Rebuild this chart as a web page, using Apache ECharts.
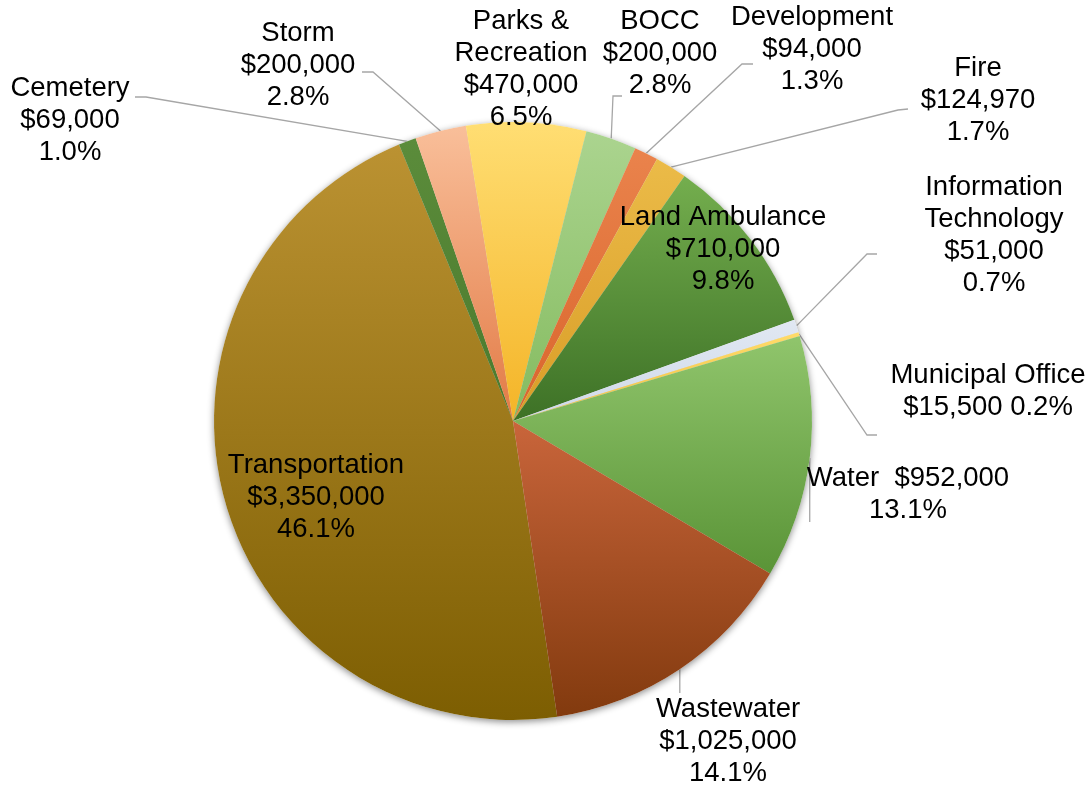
<!DOCTYPE html>
<html>
<head>
<meta charset="utf-8">
<title>Budget by Department</title>
<script src="https://cdn.jsdelivr.net/npm/echarts@6/dist/echarts.min.js"></script>
<style>
  html, body { margin: 0; padding: 0; background: #ffffff; }
  #chart { width: 1091px; height: 790px; }
</style>
</head>
<body>
<div id="chart"></div>
<script>
// Departments, listed clockwise starting at Transportation
const categories = [
  'Transportation', 'Cemetery', 'Storm', 'Parks & Recreation', 'BOCC',
  'Development', 'Fire', 'Land Ambulance', 'Information Technology',
  'Municipal Office', 'Water', 'Wastewater'
];
const amounts = [
  3350000, 69000, 200000, 470000, 200000,
  94000, 124970, 710000, 51000,
  15500, 952000, 1025000
];

// Slice fills: top colour -> bottom colour
const sliceTop = [
  '#bb9232', '#5b8c3b', '#f9bf9a', '#ffde73', '#abd48f',
  '#ea834c', '#ebbb48', '#74ae4e', '#e1e8f3',
  '#ffdb6a', '#90c56c', '#c9653b'
];
const sliceBottom = [
  '#7d5e02', '#4b7a2d', '#e27a45', '#f4b427', '#84bb5f',
  '#d9652c', '#d99d27', '#3d7126', '#cfd9e8',
  '#f0c040', '#5a9437', '#823a0e'
];

// Label placement (label centre) and leader-line bend/end points
const labelPlace = {
  'Transportation':         { c: [316, 497] },
  'Cemetery':               { c: [70, 120],  line: [[146, 97], [135, 97]] },
  'Storm':                  { c: [298, 65],  line: [[373, 72], [362, 72]] },
  'Parks & Recreation':     { c: [521, 69] },
  'BOCC':                   { c: [660, 53],  line: [[613, 96], [622, 96]] },
  'Development':            { c: [812, 49],  line: [[742, 64], [753, 64]] },
  'Fire':                   { c: [978, 100], line: [[898, 110], [908, 109]] },
  'Land Ambulance':         { c: [723, 249] },
  'Information Technology': { c: [994, 235], line: [[867, 254], [877, 254]] },
  'Municipal Office':       { c: [988, 391], line: [[867, 435], [877, 435]] },
  'Water':                  { c: [908, 494], line: [['x', 490], ['x', 522]] },
  'Wastewater':             { c: [728, 741], line: [['x', 682], ['x', 693]] }
};

// How each label's text is broken into lines
const nameLines = {
  'Parks & Recreation': 'Parks &\nRecreation',
  'Information Technology': 'Information\nTechnology'
};
const labelJoin = {
  'Municipal Office': ['\n', ' '],
  'Water': ['  ', '\n']
};

const total = amounts.reduce((s, v) => s + v, 0);
const money = v => '$' + v.toLocaleString('en-US');
const pct = v => (v / total * 100).toFixed(1) + '%';

const seriesData = categories.map((name, i) => ({
  name: name,
  value: amounts[i],
  itemStyle: {
    color: {
      type: 'linear', x: 0, y: 0, x2: 0, y2: 1,
      colorStops: [
        { offset: 0, color: sliceTop[i] },
        { offset: 1, color: sliceBottom[i] }
      ]
    }
  },
  labelLine: { show: !!labelPlace[name].line }
}));

const CENTER = [513, 421];
const RADIUS = 299;
const START = 278.5;

const chart = echarts.init(document.getElementById('chart'), null, { renderer: 'canvas' });

chart.setOption({
  animation: false,
  backgroundColor: '#ffffff',
  series: [
    {
      // soft drop shadow under the whole pie
      type: 'pie',
      silent: true,
      center: CENTER,
      radius: RADIUS,
      startAngle: START,
      clockwise: true,
      label: { show: false },
      labelLine: { show: false },
      emphasis: { disabled: true },
      itemStyle: {
        color: '#ffffff',
        shadowBlur: 7,
        shadowColor: 'rgba(0,0,0,0.45)',
        shadowOffsetX: 0,
        shadowOffsetY: 2
      },
      data: categories.map((name, i) => ({ name: name, value: amounts[i] }))
    },
    {
      type: 'pie',
      center: CENTER,
      radius: RADIUS,
      startAngle: START,
      clockwise: true,
      avoidLabelOverlap: false,
      emphasis: { disabled: true },
      label: {
        show: true,
        position: 'outside',
        color: '#000000',
        fontFamily: '"Liberation Sans", Arial, sans-serif',
        fontSize: 27.5,
        lineHeight: 32,
        align: 'center',
        formatter: p => {
          const nm = nameLines[p.name] || p.name;
          const j = labelJoin[p.name] || ['\n', '\n'];
          return nm + j[0] + money(p.value) + j[1] + pct(p.value);
        }
      },
      labelLine: {
        show: true,
        length: 4,
        length2: 4,
        smooth: false,
        lineStyle: { color: '#a6a6a6', width: 1.3 }
      },
      labelLayout: params => {
        const name = categories[params.dataIndex];
        const place = labelPlace[name];
        const out = {
          x: place.c[0],
          y: place.c[1],
          align: 'center',
          verticalAlign: 'middle'
        };
        if (place.line && params.labelLinePoints) {
          const start = params.labelLinePoints[0];
          const pts = place.line.map(pt => [pt[0] === 'x' ? start[0] : pt[0], pt[1]]);
          out.labelLinePoints = [[start[0], start[1]], pts[0], pts[1]];
        }
        return out;
      },
      data: seriesData
    }
  ]
});
</script>
</body>
</html>
